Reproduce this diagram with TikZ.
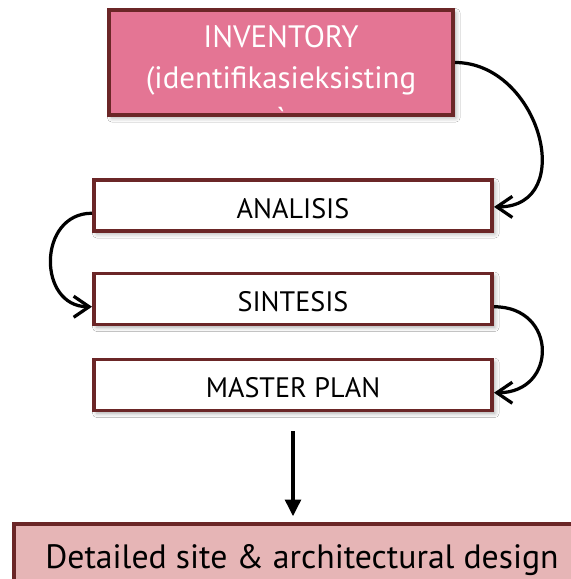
\documentclass[tikz,border=0pt]{standalone}
\usepackage{fontspec}
\setmainfont{PT Sans}
\usetikzlibrary{arrows.meta, calc, shadows.blur}
\definecolor{stageborder}{HTML}{6B2627}
\definecolor{inventfill}{HTML}{E47594}
\definecolor{designfill}{HTML}{E6B5B6}
\tikzset{
    boxshadow/.style={
        blur shadow={shadow xshift=2pt, shadow yshift=-2pt, shadow blur radius=3pt, shadow opacity=35}
    },
    stage/.style={
        draw=stageborder, line width=2.8pt, fill=white, boxshadow,
        minimum width=9.95cm, minimum height=1.275cm, inner sep=0pt,
        text height=18pt, text depth=0pt,
        font=\fontsize{20}{24}\selectfont
    },
    inventbox/.style={draw=stageborder, line width=2.8pt, boxshadow,
        fill=inventfill, text=white,
        minimum width=8.6cm, minimum height=2.625cm, inner sep=0pt,
        font=\fontsize{22}{29}\selectfont
    },
    designbox/.style={stage, fill=designfill,
        minimum width=14.4cm, minimum height=1.6cm,
        font=\fontsize{24}{28}\selectfont
    },
    loopback/.style={
        -{Straight Barb[length=11pt, width=15pt]}, line width=2.3pt
    },
    downstep/.style={
        -{Triangle[length=12pt, width=11pt]}, line width=3.4pt
    }
}
\begin{document}
\begin{tikzpicture}[x=0.025cm, y=-0.025cm]
    \clip (0,0) rectangle (571,579);
    \fill[white] (0,0) rectangle (571,579);
    % the boxes
    \node[inventbox] (inv) at (281,62.5) {\raisebox{-18pt}[0pt][0pt]{\begin{tabular}{@{}c@{}}INVENTORY\\(identifikasieksisting\\\textasciigrave\end{tabular}}};
    \node[stage] (ana) at (293,205.5) {ANALISIS};
    \node[stage] (sin) at (293,299) {SINTESIS};
    \node[stage] (mp) at (293,385) {MASTER PLAN};
    \node[designbox] (det) at (302,556) {Detailed site \& architectural design};
    % arrows
    \draw[loopback] (inv.east) to [out=0, in=0, looseness=1.45] ([yshift=-1pt]ana.east);
    \draw[loopback] ([yshift=-5.5pt]ana.west) to [out=180, in=180, looseness=1.5] ([yshift=-5.5pt]sin.west);
    \draw[loopback] ([yshift=-5.5pt]sin.east) to [out=0, in=0, looseness=1.9] ([yshift=-5.5pt]mp.east);
    \draw[downstep, shorten <=19*0.025cm, shorten >=4pt] (mp.south) -- (mp.south |- det.north);
\end{tikzpicture}
\end{document}
